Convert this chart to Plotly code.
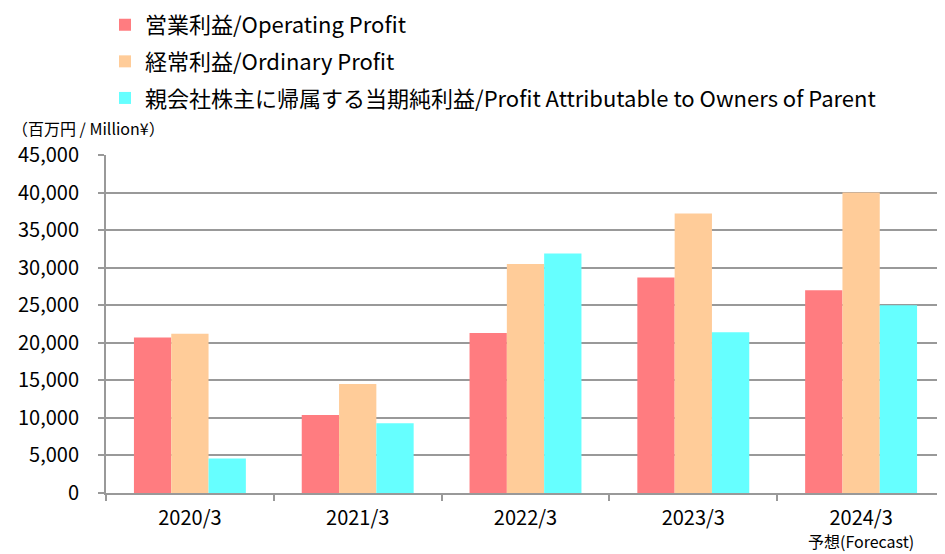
import plotly.graph_objects as go

categories = ["2020/3", "2021/3", "2022/3", "2023/3", "2024/3"]
forecast_label = "予想(Forecast)"
operating_profit = [20700, 10400, 21300, 28700, 27000]
ordinary_profit = [21200, 14500, 30500, 37200, 40000]
net_profit = [4600, 9300, 31900, 21400, 25000]

series_names = ["営業利益/Operating Profit", "経常利益/Ordinary Profit",
                "親会社株主に帰属する当期純利益/Profit Attributable to Owners of Parent"]
series_values = [operating_profit, ordinary_profit, net_profit]
series_colors = ["#FF7C80", "#FFCC99", "#66FFFF"]

y_tickvals = list(range(0, 45001, 5000))
y_ticktext = ["{:,}".format(v) for v in y_tickvals]

FONT = "Noto Sans CJK JP"
W, H = 937, 546
L, R, T, B = 98, 0, 146.5, 60.5
PH = H - T - B

fig = go.Figure()
for i, (name, vals, col) in enumerate(zip(series_names, series_values, series_colors)):
    fig.add_trace(go.Bar(
        x=categories, y=vals, name=name, marker_color=col,
        marker_line_width=0, legendgroup=str(i),
    ))

fig.update_layout(
    width=W, height=H,
    margin=dict(l=L, r=R, t=T, b=B, autoexpand=False),
    paper_bgcolor="white", plot_bgcolor="white",
    barmode="group", bargap=0.333, bargroupgap=0,
    font=dict(family=FONT, color="black", size=20),
    showlegend=True,
    legend=dict(
        xref="container", yref="paper",
        x=97 / W, y=1 + (T + 5) / PH, xanchor="left", yanchor="top",
        orientation="v", traceorder="grouped", tracegroupgap=5,
        font=dict(family=FONT, size=22, color="black"),
        itemwidth=30, bgcolor="rgba(0,0,0,0)",
    ),
    xaxis=dict(
        tickmode="array", tickvals=categories, ticktext=categories,
        showline=True, linecolor="#999999", linewidth=2,
        ticks="outside", ticklen=6, tickcolor="#999999", tickwidth=2,
        tickson="boundaries", showgrid=False, tickangle=0,
        ticklabelstandoff=6,
        tickfont=dict(family=FONT, size=20),
    ),
    yaxis=dict(
        range=[0, 45000], tickvals=y_tickvals, ticktext=y_ticktext,
        showline=True, linecolor="#999999", linewidth=2,
        ticks="outside", ticklen=6, tickcolor="#999999", tickwidth=2,
        showgrid=True, gridcolor="#999999", gridwidth=2,
        zeroline=False, ticklabelstandoff=15,
        tickfont=dict(family=FONT, size=20),
    ),
    annotations=[
        dict(
            text="（百万円 / Million¥）", xref="paper", yref="paper",
            x=(2 - L) / (W - L - R), y=1.0, xanchor="left", yanchor="middle", yshift=27,
            showarrow=False, font=dict(family=FONT, size=16),
        ),
        dict(
            text=forecast_label, xref="x", yref="paper",
            x=categories[-1], y=0, xanchor="center", yanchor="middle", yshift=-48,
            showarrow=False, font=dict(family=FONT, size=16),
        ),
    ],
)

fig.write_html("out.html")
